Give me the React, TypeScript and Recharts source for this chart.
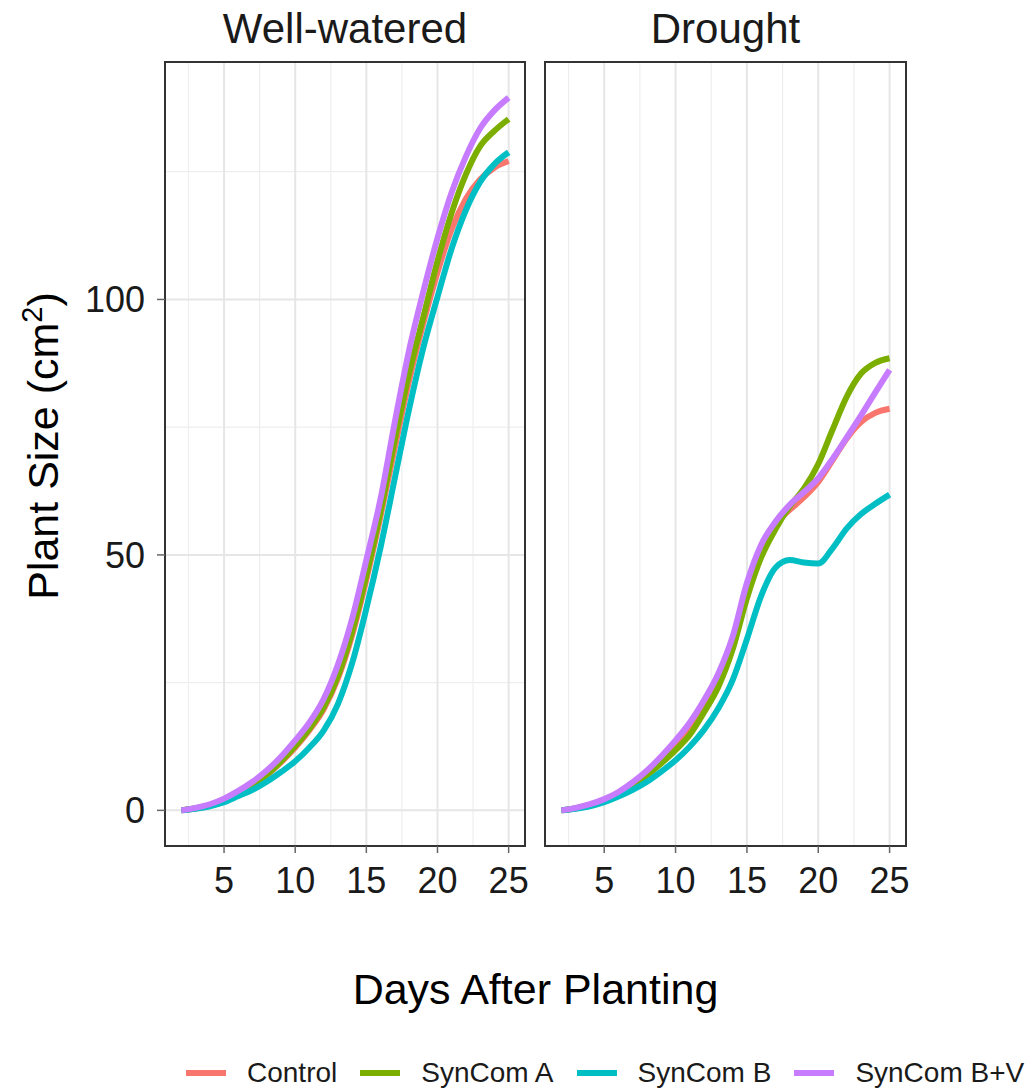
import React from 'react';
import { LineChart, Line, XAxis, YAxis, CartesianGrid, Legend, ReferenceArea } from 'recharts';

// Days after planting at which plant size was fitted
const days = [2, 3, 4, 5, 6, 7, 8, 9, 10, 11, 12, 13, 14, 15, 16, 17, 18, 19, 20, 21, 22, 23, 24, 25];

// Well-watered plant size (cm²)
const wwControl = [0, 0.4, 1.0, 1.9, 3.3, 4.9, 6.9, 9.4, 12.3, 15.7, 19.8, 25.8, 34.3, 45.2, 57.6, 71, 84, 95.3, 105.3, 113.8, 119.7, 123.5, 125.8, 127.1];
const wwSynComA = [0, 0.4, 1.0, 2.0, 3.4, 5.0, 7.0, 9.6, 12.6, 16.0, 20.2, 26.3, 35, 46, 58.5, 72.5, 85.5, 96.5, 107.5, 117, 124.5, 130, 133, 135.3];
const wwSynComB = [0, 0.3, 0.8, 1.6, 2.8, 4.0, 5.6, 7.5, 9.6, 12.3, 15.6, 20.8, 28.8, 39.5, 51.5, 65, 78.5, 90.5, 100.5, 110, 117.5, 123, 126.5, 128.8];
const wwSynComBV = [0, 0.5, 1.2, 2.3, 3.8, 5.6, 7.8, 10.5, 13.7, 17.2, 21.8, 28.5, 37.5, 49, 61, 76, 90, 101.5, 112, 121, 128, 133.5, 137, 139.5];

// Drought plant size (cm²)
const drControl = [0, 0.4, 1.1, 2.0, 3.3, 5.0, 7.1, 9.6, 12.5, 15.8, 20.2, 25.5, 33, 43, 51, 56, 58.8, 61.3, 64.3, 68.5, 72.8, 76, 77.8, 78.6];
const drSynComA = [0, 0.4, 1.0, 1.9, 3.1, 4.7, 6.8, 9.2, 11.8, 14.8, 19.2, 24.2, 31.5, 41.5, 49.5, 55, 59.5, 63, 67.8, 74.5, 81, 85.5, 87.6, 88.5];
const drSynComB = [0, 0.3, 0.8, 1.6, 2.7, 4.0, 5.6, 7.6, 9.8, 12.5, 15.8, 20, 25.5, 33.5, 42, 47.5, 49, 48.5, 48.3, 51.3, 55.2, 58, 60, 61.8];
const drSynComBV = [0, 0.5, 1.2, 2.2, 3.6, 5.5, 7.8, 10.6, 13.7, 17.2, 21.6, 26.8, 34, 44.5, 52, 56.5, 59.8, 62.3, 65, 68.8, 73, 77.3, 81.8, 86.2];

const seriesNames = ['Control', 'SynCom A', 'SynCom B', 'SynCom B+V'];
const seriesColors = ['#F8766D', '#7CAE00', '#00BFC4', '#C77CFF'];

const panelTitles = ['Well-watered', 'Drought'];
const xTicks = [5, 10, 15, 20, 25];
const xMinor = [2.5, 7.5, 12.5, 17.5, 22.5];
const yTicks = [0, 50, 100];
const yMinor = [25, 75, 125];

const FONT = '"Liberation Sans", Arial, Helvetica, sans-serif';
const W = 1032;
const H = 1091;
const X_DOMAIN: [number, number] = [0.85, 26.15];
const Y_DOMAIN: [number, number] = [-6.975, 146.475];

function buildRows(cols: number[][]) {
  return days.map((d, i) => {
    const row: Record<string, number> = { day: d };
    seriesNames.forEach((name, k) => {
      row[name] = cols[k][i];
    });
    return row;
  });
}

const wwRows = buildRows([wwControl, wwSynComA, wwSynComB, wwSynComBV]);
const drRows = buildRows([drControl, drSynComA, drSynComB, drSynComBV]);

// Strip title centred above the panel frame
const PanelTitle = (props: any) => {
  const vb = props.viewBox || {};
  return (
    <text x={vb.x + vb.width / 2} y={vb.y - 19} textAnchor="middle" fontFamily={FONT} fontSize={42} fill="#1a1a1a">
      {props.title}
    </text>
  );
};

const YTitle = () => (
  <text
    x={58}
    y={446}
    transform="rotate(-90, 58, 446)"
    textAnchor="middle"
    fontFamily={FONT}
    fontSize={43}
    fill="#000"
  >
    Plant Size (cm
    <tspan fontSize={29} dy={-16}>2</tspan>
    <tspan dy={16}>)</tspan>
  </text>
);

const XTitle = () => (
  <text x={535.5} y={1004} textAnchor="middle" fontFamily={FONT} fontSize={43} fill="#000">
    Days After Planting
  </text>
);

const LegendRow = (props: any) => {
  const payload = props.payload || [];
  return (
    <div
      style={{
        display: 'flex',
        alignItems: 'center',
        height: 34,
        paddingLeft: 186,
        fontFamily: FONT,
        fontSize: 28,
        color: '#1a1a1a',
        whiteSpace: 'nowrap',
      }}
    >
      {payload.map((p: any) => (
        <div key={p.value} style={{ display: 'flex', alignItems: 'center', marginRight: 23 }}>
          <div style={{ width: 40, height: 6, background: p.color, marginRight: 21 }} />
          <span>{p.value}</span>
        </div>
      ))}
    </div>
  );
};

type PanelProps = {
  rows: Record<string, number>[];
  title: string;
  left: number;
  right: number;
  first: boolean;
};

function Panel({ rows, title, left, right, first }: PanelProps) {
  const yAxisWidth = first ? 70 : 0;
  const xAxisHeight = 60;
  return (
    <div style={{ position: 'absolute', left: 0, top: 0 }}>
      <LineChart
        width={W}
        height={H}
        data={rows}
        margin={{ top: 62, right: W - right, bottom: H - 846 - xAxisHeight, left: left - yAxisWidth }}
      >
        <CartesianGrid stroke="#EEEEEE" strokeWidth={1.2} verticalValues={xMinor} horizontalValues={yMinor} />
        <CartesianGrid stroke="#E6E6E6" strokeWidth={2} verticalValues={xTicks} horizontalValues={yTicks} />
        <XAxis
          dataKey="day"
          type="number"
          domain={X_DOMAIN}
          allowDataOverflow
          ticks={xTicks}
          height={xAxisHeight}
          tickSize={7}
          tickMargin={14}
          tickLine={{ stroke: '#666', strokeWidth: 1.5 }}
          axisLine={false}
          tick={{ fontSize: 36, fill: '#1a1a1a', fontFamily: FONT }}
          label={first ? <XTitle /> : undefined}
        />
        <YAxis
          type="number"
          domain={Y_DOMAIN}
          allowDataOverflow
          ticks={yTicks}
          width={yAxisWidth}
          tickSize={8}
          tickMargin={12}
          tick={first ? { fontSize: 36, fill: '#1a1a1a', fontFamily: FONT } : false}
          tickLine={first ? { stroke: '#666', strokeWidth: 1.5 } : false}
          axisLine={false}
          label={first ? <YTitle /> : undefined}
        />
        {seriesNames.map((name, k) => (
          <Line
            key={name}
            type="monotone"
            dataKey={name}
            name={name}
            stroke={seriesColors[k]}
            strokeWidth={6}
            dot={false}
            activeDot={false}
            legendType="line"
            isAnimationActive={false}
          />
        ))}
        {/* panel border */}
        <ReferenceArea
          x1={X_DOMAIN[0]}
          x2={X_DOMAIN[1]}
          y1={Y_DOMAIN[0]}
          y2={Y_DOMAIN[1]}
          fill="none"
          fillOpacity={0}
          stroke="#333"
          strokeWidth={2}
          ifOverflow="visible"
          label={<PanelTitle title={title} />}
        />
        {first && (
          <Legend
            layout="horizontal"
            verticalAlign="middle"
            align="center"
            content={<LegendRow />}
            wrapperStyle={{ position: 'absolute', left: 0, top: 1056, width: W, height: 34 }}
          />
        )}
      </LineChart>
    </div>
  );
}

export default function App() {
  return (
    <div style={{ position: 'absolute', left: 0, top: 0, width: W, height: H, background: '#fff' }}>
      <Panel rows={wwRows} title={panelTitles[0]} left={165} right={525} first={true} />
      <Panel rows={drRows} title={panelTitles[1]} left={545} right={906} first={false} />
    </div>
  );
}
